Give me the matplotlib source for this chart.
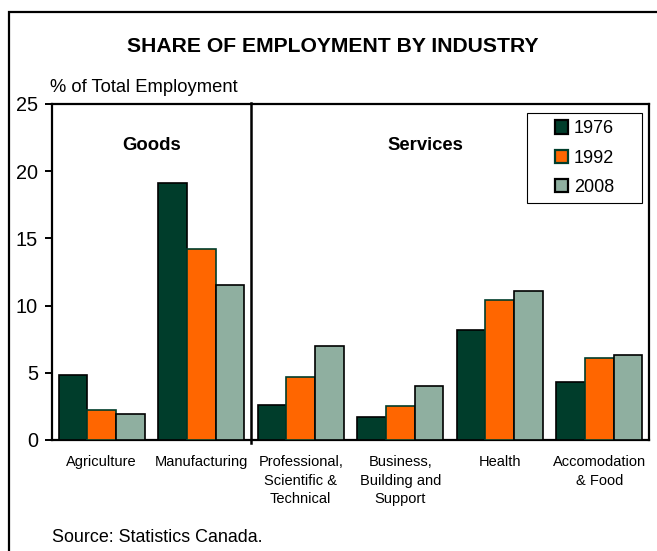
import matplotlib
matplotlib.use("Agg")
import matplotlib.pyplot as plt
import numpy as np
from matplotlib.patches import Rectangle

plt.rcParams["font.family"] = ["Liberation Sans", "DejaVu Sans"]

industries = ["Agriculture", "Manufacturing", "Professional,\nScientific &\nTechnical",
              "Business,\nBuilding and\nSupport", "Health", "Accomodation\n& Food"]
years = ["1976", "1992", "2008"]
share_1976 = [4.8, 19.1, 2.6, 1.7, 8.2, 4.3]
share_1992 = [2.2, 14.2, 4.7, 2.5, 10.4, 6.1]
share_2008 = [1.9, 11.5, 7.0, 4.0, 11.1, 6.3]
y_ticks = [0, 5, 10, 15, 20, 25]

COLORS = ["#003d2b", "#ff6600", "#8fafa0"]
EDGES = ["black", "#003d2b", "black"]

fig = plt.figure(figsize=(6.57, 5.51), dpi=100)
ax = fig.add_axes([0.0791, 0.2015, 0.9087, 0.6098])

# outer frame, open on the right and bottom
fig.patches.append(Rectangle((9 / 657, -0.1), 1.2, 1 - 12 / 551 + 0.1,
                             transform=fig.transFigure, fill=False,
                             edgecolor="black", lw=1.6, zorder=0))

x = np.arange(len(industries))
w = 0.288
for i, (vals, col, ec, yr) in enumerate(zip([share_1976, share_1992, share_2008],
                                            COLORS, EDGES, years)):
    ax.bar(x + (i - 1) * w, vals, width=w, color=col, edgecolor=ec,
           linewidth=1.2, label=yr, zorder=3)

ax.set_xlim(-0.5, len(industries) - 0.5)
ax.set_ylim(0, 25)
ax.set_yticks(y_ticks)
ax.set_yticklabels([str(t) for t in y_ticks], fontsize=14.3)
ax.tick_params(axis="y", direction="out", length=5, width=1.4, pad=5)
ax.set_xticks(x)
ax.set_xticklabels(industries, fontsize=10.5, linespacing=1.4, va="top")
ax.tick_params(axis="x", length=0, pad=11)
for s in ax.spines.values():
    s.set_linewidth(1.6)

# goods / services divider
ax.plot([1.5, 1.5], [-0.2, 25.1], color="black", lw=1.8, clip_on=False, zorder=4)
ax.text(0.5, 21.9, "Goods", ha="center", va="center", fontsize=13.3, fontweight="bold")
ax.text(3.25, 21.9, "Services", ha="center", va="center", fontsize=13.3, fontweight="bold")

# legend box is wider than the entries, so draw it separately
ax.add_patch(Rectangle((0.7957, 0.705), 0.1926, 0.268, transform=ax.transAxes,
                       fill=False, edgecolor="black", lw=0.8, zorder=5))
leg = ax.legend(loc="center", bbox_to_anchor=(0.892, 0.839), fontsize=13,
                frameon=False, handlelength=0.75, handleheight=0.75,
                handletextpad=0.3, labelspacing=0.68, borderpad=0)
for h in leg.legend_handles:
    h.set_linewidth(1.6)

fig.text(0.507, 1 - 47 / 551, "SHARE OF EMPLOYMENT BY INDUSTRY", ha="center",
         va="center", fontsize=15.2, fontweight="bold")
fig.text(50 / 657, 1 - 88 / 551, "% of Total Employment", ha="left", va="center",
         fontsize=13.2)
fig.text(52 / 657, 1 - 537 / 551, "Source: Statistics Canada.", ha="left", va="center",
         fontsize=12.9)

fig.savefig("out.png", dpi=100)
